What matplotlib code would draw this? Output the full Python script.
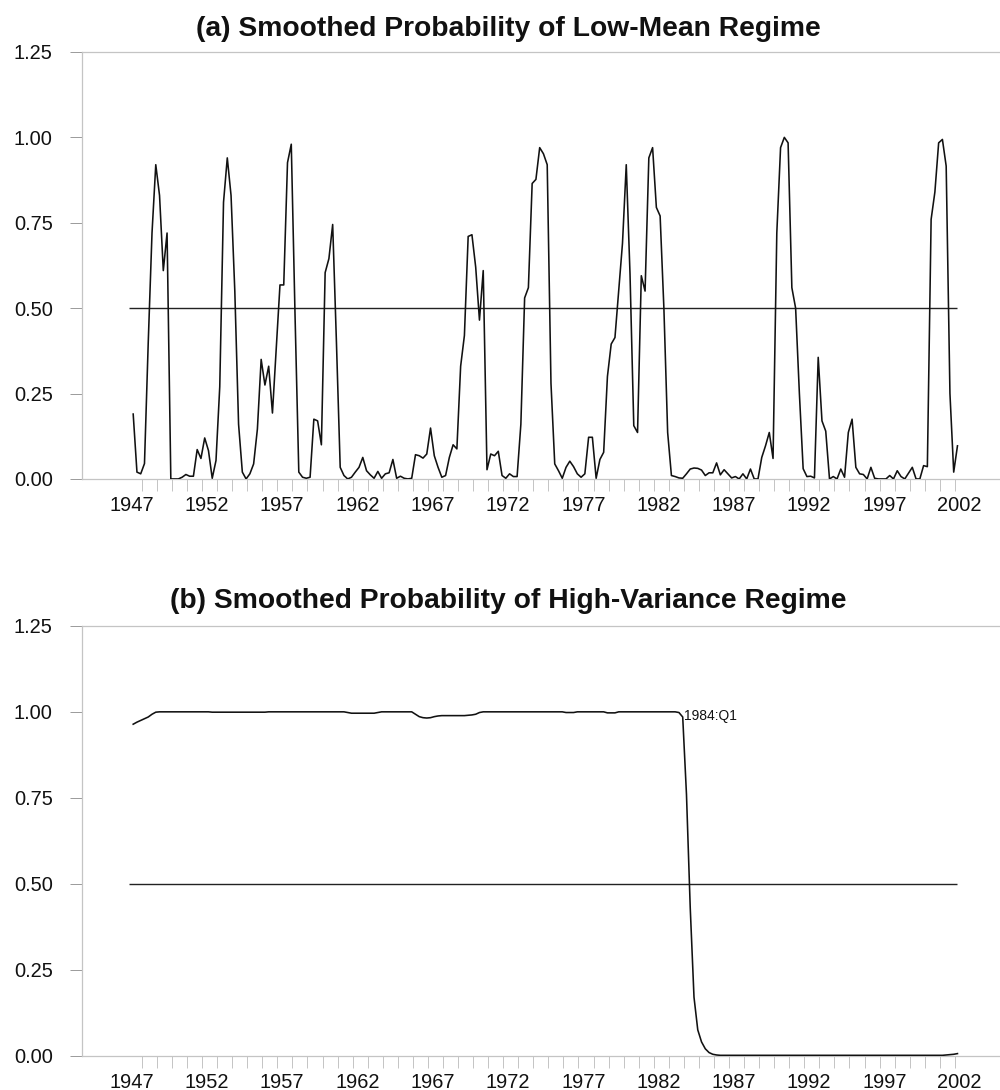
import matplotlib
matplotlib.use("Agg")
import matplotlib.pyplot as plt
import numpy as np

plt.rcParams['font.family'] = ['Liberation Sans', 'DejaVu Sans']

# Quarterly sample 1947:Q2 - 2002:Q1
start_year, start_quarter = 1947, 2
year_labels = ['1947', '1952', '1957', '1962', '1967', '1972',
               '1977', '1982', '1987', '1992', '1997', '2002']
y_ticks = [0.0, 0.25, 0.50, 0.75, 1.00, 1.25]
threshold = 0.5
annot_label = '1984:Q1'
title_a = '(a) Smoothed Probability of Low-Mean Regime'
title_b = '(b) Smoothed Probability of High-Variance Regime'

# (a) smoothed probability of low-mean regime
low_mean = [
    0.19, 0.02, 0.015, 0.045, 0.40, 0.72, 0.92, 0.83, 0.61, 0.72,
    0.0, 0.0, 0.0, 0.005, 0.013, 0.008, 0.008, 0.086, 0.06, 0.12,
    0.083, 0.002, 0.054, 0.27, 0.81, 0.94, 0.83, 0.55, 0.16, 0.02,
    0.0, 0.015, 0.044, 0.146, 0.35, 0.275, 0.33, 0.193, 0.38, 0.568,
    0.568, 0.926, 0.98, 0.48, 0.02, 0.005, 0.002, 0.005, 0.175, 0.17,
    0.10, 0.604, 0.645, 0.745, 0.40, 0.034, 0.01, 0.0, 0.005, 0.02,
    0.034, 0.063, 0.024, 0.012, 0.002, 0.022, 0.002, 0.015, 0.018, 0.057,
    0.002, 0.008, 0.002, 0.0, 0.002, 0.071, 0.068, 0.061, 0.073, 0.149,
    0.068, 0.034, 0.005, 0.01, 0.063, 0.10, 0.088, 0.33, 0.42, 0.71,
    0.715, 0.62, 0.465, 0.61, 0.027, 0.073, 0.068, 0.081, 0.01, 0.002,
    0.015, 0.007, 0.007, 0.16, 0.53, 0.56, 0.865, 0.877, 0.97, 0.952,
    0.92, 0.28, 0.044, 0.024, 0.002, 0.034, 0.052, 0.036, 0.015, 0.005,
    0.015, 0.122, 0.122, 0.002, 0.057, 0.078, 0.30, 0.395, 0.414, 0.55,
    0.69, 0.92, 0.60, 0.156, 0.136, 0.595, 0.55, 0.94, 0.97, 0.795,
    0.77, 0.50, 0.136, 0.01, 0.007, 0.003, 0.002, 0.015, 0.029, 0.032,
    0.031, 0.026, 0.01, 0.018, 0.018, 0.047, 0.012, 0.027, 0.015, 0.003,
    0.007, 0.0, 0.015, 0.0, 0.029, 0.0, 0.0, 0.063, 0.097, 0.136,
    0.06, 0.72, 0.97, 1.0, 0.984, 0.56, 0.50, 0.25, 0.03, 0.007,
    0.008, 0.003, 0.356, 0.17, 0.14, 0.0, 0.007, 0.0, 0.029, 0.005,
    0.136, 0.175, 0.034, 0.015, 0.013, 0.0, 0.034, 0.002, 0.0, 0.0,
    0.0, 0.01, 0.0, 0.024, 0.007, 0.0, 0.017, 0.034, 0.0, 0.0,
    0.039, 0.036, 0.76, 0.84, 0.984, 0.994, 0.916, 0.25, 0.02, 0.097,
]

# (b) smoothed probability of high-variance regime
high_var = [
    0.964, 0.970, 0.975, 0.980, 0.985, 0.993, 0.999, 1.0, 1.0, 1.0,
    1.0, 1.0, 1.0, 1.0, 1.0, 1.0, 1.0, 1.0, 1.0, 1.0,
    1.0, 0.999, 0.999, 0.999, 0.999, 0.999, 0.999, 0.999, 0.999, 0.999,
    0.999, 0.999, 0.999, 0.999, 0.999, 0.999, 1.0, 1.0, 1.0, 1.0,
    1.0, 1.0, 1.0, 1.0, 1.0, 1.0, 1.0, 1.0, 1.0, 1.0,
    1.0, 1.0, 1.0, 1.0, 1.0, 1.0, 1.0, 0.998, 0.996, 0.996,
    0.996, 0.996, 0.996, 0.996, 0.996, 0.998, 1.0, 1.0, 1.0, 1.0,
    1.0, 1.0, 1.0, 1.0, 1.0, 0.993, 0.986, 0.983, 0.982, 0.983,
    0.986, 0.988, 0.989, 0.989, 0.989, 0.989, 0.989, 0.989, 0.989, 0.990,
    0.991, 0.993, 0.998, 1.0, 1.0, 1.0, 1.0, 1.0, 1.0, 1.0,
    1.0, 1.0, 1.0, 1.0, 1.0, 1.0, 1.0, 1.0, 1.0, 1.0,
    1.0, 1.0, 1.0, 1.0, 1.0, 0.998, 0.998, 0.998, 1.0, 1.0,
    1.0, 1.0, 1.0, 1.0, 1.0, 1.0, 0.997, 0.997, 0.997, 1.0,
    1.0, 1.0, 1.0, 1.0, 1.0, 1.0, 1.0, 1.0, 1.0, 1.0,
    1.0, 1.0, 1.0, 1.0, 1.0, 0.998, 0.985, 0.76, 0.43, 0.17,
    0.075, 0.04, 0.02, 0.009, 0.004, 0.002, 0.001, 0.001, 0.001, 0.001,
    0.001, 0.001, 0.001, 0.001, 0.001, 0.001, 0.001, 0.001, 0.001, 0.001,
    0.001, 0.001, 0.001, 0.001, 0.001, 0.001, 0.001, 0.001, 0.001, 0.001,
    0.001, 0.001, 0.001, 0.001, 0.001, 0.001, 0.001, 0.001, 0.001, 0.001,
    0.001, 0.001, 0.001, 0.001, 0.001, 0.001, 0.001, 0.001, 0.001, 0.001,
    0.001, 0.001, 0.001, 0.001, 0.001, 0.001, 0.001, 0.001, 0.001, 0.001,
    0.001, 0.001, 0.001, 0.001, 0.001, 0.001, 0.002, 0.003, 0.004, 0.006,
]

n = len(low_mean)
quarters = [f"{start_year + (start_quarter - 1 + k) // 4}:Q{(start_quarter - 1 + k) % 4 + 1}"
            for k in range(n)]
x = np.arange(n)
annot_idx = quarters.index(annot_label) - 1

GRAY = '#9a9a9a'
LIGHT = '#c4c4c4'
INK = '#111111'

fig = plt.figure(figsize=(10, 10.9), dpi=100)
ax_a = fig.add_axes([0.082, 0.5606, 0.918, 0.3917])
ax_b = fig.add_axes([0.082, 0.0315, 0.918, 0.3943])


def style(ax):
    ax.set_xlim(-13.6, 230.3)
    ax.set_ylim(0, 1.25)
    ax.set_yticks(y_ticks)
    ax.set_yticklabels([f"{v:.2f}" for v in y_ticks])
    ax.set_xticks(np.arange(0, n + 1, 20) - 0.4)
    ax.set_xticklabels(year_labels)
    ax.set_xticks(np.arange(2.3, n, 4), minor=True)
    ax.tick_params(axis='x', which='major', length=0, pad=12.5, labelsize=14.4,
                   labelcolor=INK)
    ax.tick_params(axis='x', which='minor', length=8.6, width=0.7, color=LIGHT,
                   direction='out')
    ax.tick_params(axis='y', length=8.6, width=0.7, color=GRAY, pad=12.5,
                   labelsize=14.4, labelcolor=INK)
    ax.spines['right'].set_visible(False)
    for side in ('top', 'left', 'bottom'):
        ax.spines[side].set_color(LIGHT)
        ax.spines[side].set_linewidth(0.9)
    ax.hlines(threshold, x[0] - 1, x[-1], color='#222222', linewidth=1.0, zorder=2)


style(ax_a)
ax_a.plot(x, low_mean, color=INK, linewidth=1.15, zorder=3)

style(ax_b)
ax_b.plot(x, high_var, color=INK, linewidth=1.15, zorder=3)
ax_b.annotate(annot_label, xy=(x[annot_idx], high_var[annot_idx]),
              xytext=(1, 1), textcoords='offset points',
              ha='left', va='center', fontsize=10, color=INK)

fig.text(0.508, 1 - 35.7 / 1090, title_a, ha='center', va='baseline',
         fontsize=20.3, fontweight='bold', color=INK)
fig.text(0.508, 1 - 608 / 1090, title_b, ha='center', va='baseline',
         fontsize=20.3, fontweight='bold', color=INK)

fig.savefig('out.png', dpi=100)
